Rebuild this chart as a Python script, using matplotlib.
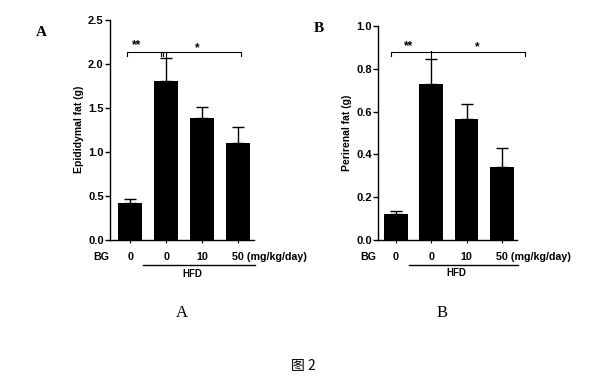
import numpy as np
import matplotlib
matplotlib.use("Agg")
import matplotlib.pyplot as plt
import matplotlib.transforms as mtransforms

# data
groups = ["0", "0", "10", "50"]
epi_mean = [0.42, 1.80, 1.38, 1.10]
epi_err = [0.04, 0.27, 0.13, 0.18]
peri_mean = [0.12, 0.73, 0.565, 0.34]
peri_err = [0.015, 0.115, 0.072, 0.088]
epi_ticks = [0.0, 0.5, 1.0, 1.5, 2.0, 2.5]
peri_ticks = [0.0, 0.2, 0.4, 0.6, 0.8, 1.0]

SANS = "Liberation Sans"
FS = 7.7

W, H = 607, 386
fig = plt.figure(figsize=(W / 100, H / 100), dpi=100)


def px_axes(left, right, top, bottom):
    return fig.add_axes([left / W, 1 - bottom / H, (right - left) / W, (bottom - top) / H])


def bar_panel(ax, means, errs, ticks, ylabel, xlim):
    x = np.arange(len(means))
    ax.bar(x, means, width=0.67, color="black", zorder=2)
    ax.errorbar(x, means, yerr=[np.zeros(len(errs)), errs], fmt="none",
                ecolor="black", elinewidth=1.0, capsize=4.5, capthick=1.0, zorder=3)
    ax.set_xlim(*xlim)
    ax.set_ylim(ticks[0], ticks[-1])
    ax.set_yticks(ticks)
    ax.set_yticklabels([f"{t:.1f}" for t in ticks], fontfamily=SANS, fontweight="bold", fontsize=FS + 0.3)
    ax.set_xticks(x)
    ax.set_xticklabels([])
    ax.tick_params(axis="y", direction="out", length=3.5, width=1.0, pad=1.0)
    ax.tick_params(axis="x", direction="out", length=2.5, width=0.8)
    for s in ["top", "right"]:
        ax.spines[s].set_visible(False)
    for s in ["left", "bottom"]:
        ax.spines[s].set_linewidth(1.0)
    ax.set_ylabel(ylabel, fontfamily=SANS, fontweight="bold", fontsize=FS - 0.2, labelpad=3)
    tr = mtransforms.blended_transform_factory(ax.transData, ax.transAxes)
    kw = dict(transform=tr, va="center", fontfamily=SANS, fontweight="bold", fontsize=FS)
    ax.text(-0.8, -0.08, "BG", ha="center", **kw)
    for xi, g in zip(x[:-1], groups[:-1]):
        ax.text(xi, -0.08, g, ha="center", **kw)
    shift = mtransforms.ScaledTranslation(-6 / 100, 0, fig.dpi_scale_trans)
    kw["transform"] = tr + shift
    ax.text(x[-1], -0.08, groups[-1] + " (mg/kg/day)", ha="left", **kw)
    ax.plot([0.36, 3.47], [-0.116, -0.116], transform=tr, color="black", lw=1.0, clip_on=False)
    ax.text(1.72, -0.155, "HFD", transform=tr, ha="center", va="center",
            fontfamily=SANS, fontweight="bold", fontsize=FS - 0.7)
    return tr


def bracket(ax, x0, x1, y, drop):
    ax.plot([x0, x0, x1, x1], [y - drop, y, y, y - drop], color="black", lw=0.8, clip_on=False)


def star(ax, x, y, s):
    ax.text(x, y, s, ha="center", va="center", fontfamily=SANS, fontweight="bold", fontsize=8.5)


# panel A
axA = px_axes(110, 254, 20, 239.5)
bar_panel(axA, epi_mean, epi_err, epi_ticks, "Epididymal fat (g)", (-0.56, 3.44))
yA = 2.13
bracket(axA, -0.09, 0.9, yA, 0.045)
bracket(axA, 0.86, 3.08, yA, 0.045)
axA.plot([1, 1], [epi_mean[1] + epi_err[1], yA + 0.01], color="black", lw=0.8, clip_on=False)
star(axA, 0.19, 2.21, "**")
star(axA, 1.86, 2.185, "*")

# panel B
axB = px_axes(378, 517, 26, 240)
bar_panel(axB, peri_mean, peri_err, peri_ticks, "Perirenal fat (g)", (-0.51, 3.43))
yB = 0.88
bracket(axB, -0.15, 3.67, yB, 0.02)
axB.plot([1, 1], [peri_mean[1] + peri_err[1], yB + 0.005], color="black", lw=0.8, clip_on=False)
star(axB, 0.37, 0.905, "**")
star(axB, 2.31, 0.9, "*")

# panel letters
fig.text(41 / W, 1 - 33 / H, "A", fontfamily="Liberation Serif", fontweight="bold",
         fontsize=11, ha="center", va="center")
fig.text(319 / W, 1 - 29 / H, "B", fontfamily="Liberation Serif", fontweight="bold",
         fontsize=11, ha="center", va="center")

# captions
fig.text(182 / W, 1 - 313 / H, "A", fontfamily="Liberation Serif", fontsize=12,
         ha="center", va="center")
fig.text(442 / W, 1 - 313 / H, "B", fontfamily="Liberation Serif", fontsize=12,
         ha="center", va="center")
fig.text(303 / W, 1 - 366 / H, "图 2", fontfamily=["Noto Sans CJK SC", "DejaVu Sans"],
         fontsize=10, ha="center", va="center")

fig.savefig("out.png", dpi=100)
